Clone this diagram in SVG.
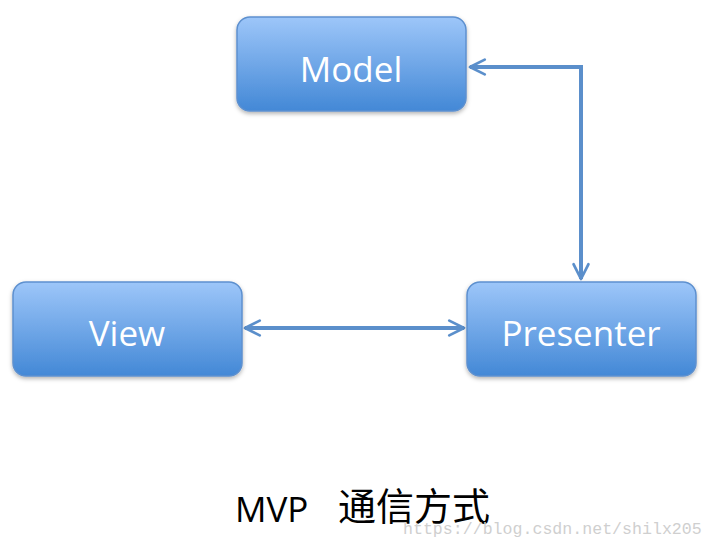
<svg xmlns="http://www.w3.org/2000/svg" width="714" height="548" viewBox="0 0 714 548">
<defs>
<linearGradient id="g" x1="0" y1="0" x2="0" y2="1">
<stop offset="0" stop-color="#9dc6f9"/>
<stop offset="1" stop-color="#4388d6"/>
</linearGradient>
<filter id="sh" x="-10%" y="-10%" width="120%" height="130%">
<feDropShadow dx="0" dy="2" stdDeviation="2" flood-color="#000" flood-opacity="0.3"/>
</filter>
<marker id="ah" viewBox="0 0 10 10" refX="9" refY="5" markerWidth="4.6" markerHeight="4.6" orient="auto-start-reverse" markerUnits="strokeWidth">
<path d="M1,1 L9,5 L1,9" fill="none" stroke="#5b8fcb" stroke-width="1.5" stroke-linecap="round" stroke-linejoin="round"/>
</marker>
</defs>
<style>
.box{fill:url(#g);stroke:#5d90cf;stroke-width:1.5;filter:url(#sh)}
.lbl{font-family:"Open Sans","Liberation Sans",sans-serif;font-size:35px;font-weight:500;fill:#fff;text-anchor:middle}
.con{fill:none;stroke:#5b8fcb;stroke-width:4;marker-start:url(#ah);marker-end:url(#ah)}
</style>
<rect width="714" height="548" fill="#fff"/>
<g id="connectors">
<path class="con" d="M470,67 L581,67 L581,279"/>
<path class="con" d="M245,328 L464,328"/>
</g>
<g id="model">
<rect class="box" x="237" y="17" width="229" height="94" rx="13"/>
<text class="lbl" x="351" y="82">Model</text>
</g>
<g id="view">
<rect class="box" x="13" y="282" width="229" height="94" rx="13"/>
<text class="lbl" x="127" y="346">View</text>
</g>
<g id="presenter">
<rect class="box" x="467" y="282" width="229" height="94" rx="13"/>
<text class="lbl" x="581" y="346">Presenter</text>
</g>
<text x="235" y="522" font-family="Open Sans, Liberation Sans, Noto Sans CJK SC, sans-serif" font-size="35" fill="#000">MVP</text>
<text x="338" y="520" font-family="Noto Sans CJK SC, sans-serif" font-size="38" fill="#000">通信方式</text>
<text x="403" y="534" font-family="Liberation Mono, DejaVu Sans Mono, monospace" font-size="16.6" fill="#cfcfcf">https://blog.csdn.net/shilx205</text>
</svg>
